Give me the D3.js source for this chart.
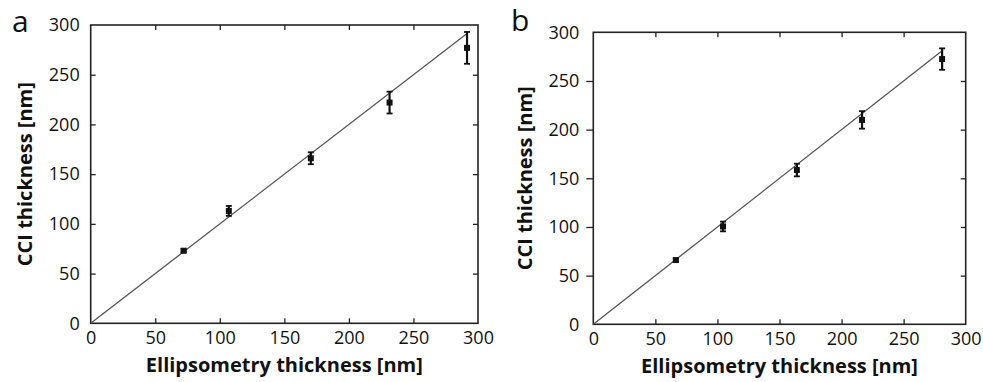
<!DOCTYPE html>
<html>
<head>
<meta charset="utf-8">
<script src="https://cdn.jsdelivr.net/npm/d3@7"></script>
<style>
  body { margin: 0; background: #fff; }
  text { font-family: "Open Sans", sans-serif; fill: #111; }
</style>
</head>
<body>
<script>
// data
var ticks = [0, 50, 100, 150, 200, 250, 300];

var ellipA = [72, 107, 170.5, 231.5, 291.5];
var cciA   = [73, 113, 166, 222, 277];
var errA   = [1.5, 5, 6, 11, 16];
var fitEndA = 291;

var ellipB = [66.5, 104.5, 164, 216.5, 281];
var cciB   = [66, 100.5, 158.5, 210, 272.5];
var errB   = [1.5, 5, 6.5, 9, 11];
var fitEndB = 281;

var svg = d3.select("body").append("svg")
    .attr("width", 983)
    .attr("height", 382);

// one panel
function panel(opt) {
  var x = d3.scaleLinear().domain([0, 300]).range([opt.left, opt.right]),
      y = d3.scaleLinear().domain([0, 300]).range([opt.bottom, opt.top]);

  var g = svg.append("g");

  // frame
  g.append("rect")
      .attr("x", opt.left).attr("y", opt.top)
      .attr("width", opt.right - opt.left).attr("height", opt.bottom - opt.top)
      .attr("fill", "none").attr("stroke", "#222").attr("stroke-width", 1.6);

  // bottom axis, ticks pointing in
  var xa = g.append("g")
      .attr("transform", "translate(0," + opt.bottom + ")")
      .call(d3.axisBottom(x).tickValues(ticks).tickSizeInner(-5).tickSizeOuter(0).tickPadding(8));
  // top ticks
  g.append("g")
      .attr("transform", "translate(0," + opt.top + ")")
      .call(d3.axisTop(x).tickValues(ticks.slice(1, -1)).tickSizeInner(-5).tickSizeOuter(0).tickFormat(""));
  // left axis
  var ya = g.append("g")
      .attr("transform", "translate(" + opt.left + ",0)")
      .call(d3.axisLeft(y).tickValues(ticks).tickSizeInner(opt.leftTick).tickSizeOuter(0).tickPadding(opt.leftPad));
  // right ticks
  g.append("g")
      .attr("transform", "translate(" + opt.right + ",0)")
      .call(d3.axisRight(y).tickValues(ticks.slice(1, -1)).tickSizeInner(-5).tickSizeOuter(0).tickFormat(""));

  g.selectAll(".domain").remove();
  g.selectAll(".tick line").attr("stroke", "#222").attr("stroke-width", 1.3);
  g.selectAll(".tick text")
      .style("font-family", "'Open Sans', sans-serif")
      .style("font-size", "18px")
      .attr("fill", "#111");
  ya.selectAll(".tick").filter(function(d) { return d === 300; }).select("line").remove();
  ya.selectAll(".tick").filter(function(d) { return d === 0; }).select("line").remove();
  xa.selectAll(".tick").filter(function(d) { return d === 0 || d === 300; }).select("line").remove();

  // fit line y = x
  g.append("line")
      .attr("x1", x(0)).attr("y1", y(0))
      .attr("x2", x(opt.fitEnd)).attr("y2", y(opt.fitEnd))
      .attr("stroke", "#555").attr("stroke-width", 1.3);

  var pts = opt.xs.map(function(v, i) { return {x: v, y: opt.ys[i], e: opt.es[i]}; });

  // error bars
  var eb = g.selectAll(".eb").data(pts).enter().append("g").attr("class", "eb");
  eb.append("line")
      .attr("x1", function(d) { return x(d.x); }).attr("x2", function(d) { return x(d.x); })
      .attr("y1", function(d) { return y(d.y - d.e); }).attr("y2", function(d) { return y(d.y + d.e); })
      .attr("stroke", "#111").attr("stroke-width", 2.2);
  eb.append("line")
      .attr("x1", function(d) { return x(d.x) - 3; }).attr("x2", function(d) { return x(d.x) + 3; })
      .attr("y1", function(d) { return y(d.y - d.e); }).attr("y2", function(d) { return y(d.y - d.e); })
      .attr("stroke", "#111").attr("stroke-width", 1.8);
  eb.append("line")
      .attr("x1", function(d) { return x(d.x) - 3; }).attr("x2", function(d) { return x(d.x) + 3; })
      .attr("y1", function(d) { return y(d.y + d.e); }).attr("y2", function(d) { return y(d.y + d.e); })
      .attr("stroke", "#111").attr("stroke-width", 1.8);
  // markers
  g.selectAll(".pt").data(pts).enter().append("rect")
      .attr("x", function(d) { return x(d.x) - 3; })
      .attr("y", function(d) { return y(d.y) - 3; })
      .attr("width", 6).attr("height", 6)
      .attr("fill", "#111");

  // axis titles
  g.append("text")
      .attr("x", (opt.left + opt.right) / 2).attr("y", opt.bottom + 49)
      .attr("text-anchor", "middle")
      .style("font-size", "20px").style("font-weight", "bold")
      .text("Ellipsometry thickness [nm]");
  g.append("text")
      .attr("transform", "translate(" + opt.ytitleX + "," + (opt.top + opt.bottom) / 2 + ") rotate(-90)")
      .attr("text-anchor", "middle")
      .style("font-size", "20px").style("font-weight", "bold")
      .text("CCI thickness [nm]");

  // panel letter
  g.append("text")
      .attr("x", opt.labelX).attr("y", opt.labelY)
      .style("font-size", "30px")
      .text(opt.label);
}

panel({left: 90.7, right: 478, top: 25, bottom: 323.3, leftTick: -5, leftPad: 11,
       xs: ellipA, ys: cciA, es: errA, fitEnd: fitEndA,
       ytitleX: 32, label: "a", labelX: 12, labelY: 32});

panel({left: 593.3, right: 965.7, top: 32.3, bottom: 324.3, leftTick: 7, leftPad: 7,
       xs: ellipB, ys: cciB, es: errB, fitEnd: fitEndB,
       ytitleX: 532, label: "b", labelX: 511, labelY: 31});
</script>
</body>
</html>
